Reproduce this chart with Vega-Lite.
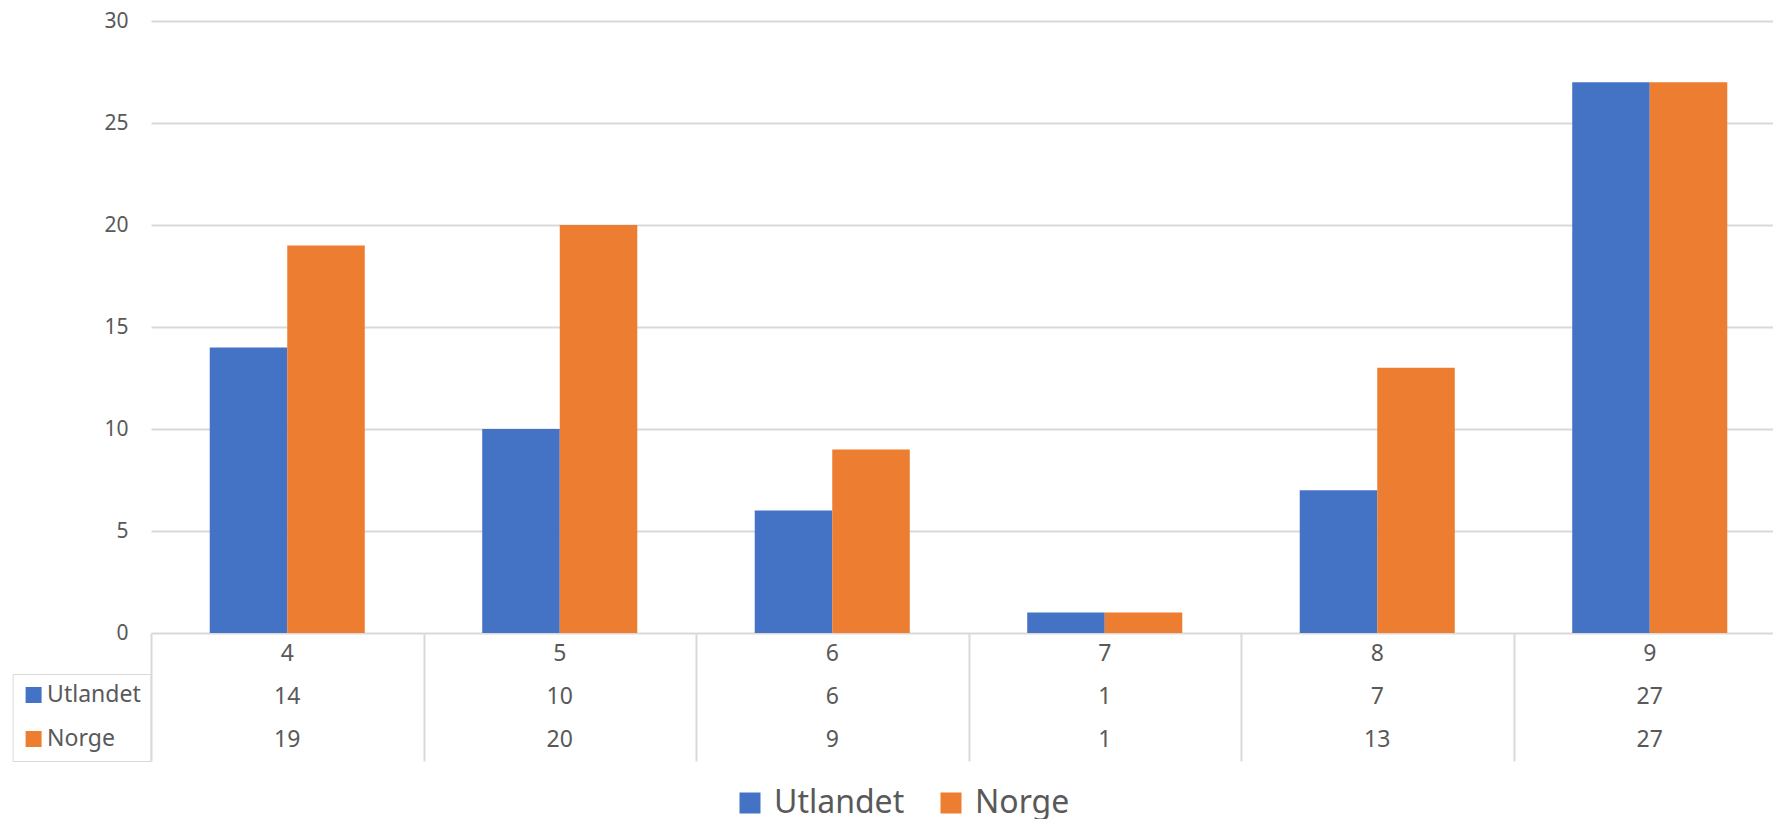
{
  "$schema": "https://vega.github.io/schema/vega-lite/v6.json",
  "padding": {"left": 12, "top": 10, "right": 0, "bottom": 0},
  "spacing": 0,
  "bounds": "flush",
  "data": {"values": [
    {"kategori": "4", "serie": "Utlandet", "antall": 14},
    {"kategori": "5", "serie": "Utlandet", "antall": 10},
    {"kategori": "6", "serie": "Utlandet", "antall": 6},
    {"kategori": "7", "serie": "Utlandet", "antall": 1},
    {"kategori": "8", "serie": "Utlandet", "antall": 7},
    {"kategori": "9", "serie": "Utlandet", "antall": 27},
    {"kategori": "4", "serie": "Norge", "antall": 19},
    {"kategori": "5", "serie": "Norge", "antall": 20},
    {"kategori": "6", "serie": "Norge", "antall": 9},
    {"kategori": "7", "serie": "Norge", "antall": 1},
    {"kategori": "8", "serie": "Norge", "antall": 13},
    {"kategori": "9", "serie": "Norge", "antall": 27}
  ]},
  "config": {
    "font": "Noto Sans",
    "view": {"stroke": null},
    "text": {"font": "Noto Sans"}
  },
  "resolve": {
    "scale": {"x": "independent", "y": "independent"},
    "legend": {"color": "independent"}
  },
  "vconcat": [
    {
      "width": 1635,
      "height": 612,
      "mark": {"type": "bar"},
      "encoding": {
        "x": {
          "field": "kategori", "type": "nominal",
          "sort": ["4", "5", "6", "7", "8", "9"],
          "scale": {"paddingInner": 0.431, "paddingOuter": 0.2155},
          "axis": null
        },
        "xOffset": {
          "field": "serie", "type": "nominal",
          "sort": ["Utlandet", "Norge"],
          "scale": {"paddingInner": 0, "paddingOuter": 0}
        },
        "y": {
          "field": "antall", "type": "quantitative",
          "scale": {"domain": [0, 30], "nice": false},
          "axis": {
            "title": null,
            "values": [0, 5, 10, 15, 20, 25, 30],
            "grid": true, "gridColor": "#d9d9d9", "gridWidth": 2,
            "domain": false, "ticks": false,
            "labelFontSize": 21, "labelColor": "#595959", "labelPadding": 23
          }
        },
        "color": {
          "field": "serie", "type": "nominal",
          "scale": {"domain": ["Utlandet", "Norge"], "range": ["#4472c4", "#ed7d31"]},
          "legend": {
            "title": null,
            "orient": "none",
            "legendX": 583,
            "legendY": 766,
            "direction": "horizontal",
            "symbolType": "square",
            "symbolSize": 441,
            "symbolStrokeWidth": 0,
            "labelFontSize": 32,
            "labelColor": "#595959",
            "labelOffset": 8,
            "columnPadding": 30,
            "padding": 0
          }
        }
      }
    },
    {
      "width": 1635,
      "height": 128,
      "encoding": {
        "x": {
          "field": "kategori", "type": "nominal",
          "sort": ["4", "5", "6", "7", "8", "9"],
          "scale": {"paddingInner": 0, "paddingOuter": 0},
          "axis": {
            "title": null, "orient": "top",
            "labels": false, "ticks": false, "domain": false,
            "grid": true, "gridColor": "#d9d9d9", "gridWidth": 2,
            "tickBand": "extent"
          }
        }
      },
      "layer": [
        {
          "mark": {"type": "rect", "opacity": 0},
          "encoding": {
            "y": {
              "field": "serie", "type": "nominal",
              "scale": {"domain": ["hdr", "Utlandet", "Norge"], "paddingInner": 0, "paddingOuter": 0},
              "axis": {
                "title": null, "labels": false,
                "ticks": true, "tickSize": 138.4, "tickColor": "#d9d9d9", "tickWidth": 2,
                "tickBand": "extent",
                "tickOpacity": {"condition": {"test": "datum.value === 'hdr'", "value": 0}, "value": 1},
                "grid": true, "gridColor": "#d9d9d9", "gridWidth": 2,
                "domain": true, "domainColor": "#d9d9d9", "domainWidth": 2
              }
            },
            "color": {
              "field": "serie", "type": "nominal",
              "scale": {"domain": ["Utlandet", "Norge"], "range": ["#4472c4", "#ed7d31"]},
              "legend": {
                "title": null,
                "orient": "none",
                "legendX": -138.4,
                "legendY": 41,
                "direction": "vertical",
                "symbolType": "square",
                "symbolSize": 256,
                "symbolStrokeWidth": 0,
                "symbolOpacity": 1,
                "labelFontSize": 23,
                "labelColor": "#595959",
                "labelOffset": 2,
                "rowPadding": 20,
                "padding": 9.5,
                "strokeColor": "#d9d9d9"
              }
            }
          }
        },
        {
          "mark": {"type": "text", "fontSize": 23, "color": "#595959"},
          "encoding": {
            "y": {"field": "serie", "type": "nominal", "axis": null},
            "text": {"field": "antall", "type": "quantitative"}
          }
        },
        {
          "transform": [{"filter": "datum.serie === 'Utlandet'"}],
          "mark": {"type": "text", "fontSize": 23, "color": "#595959"},
          "encoding": {
            "y": {"datum": "hdr", "type": "nominal", "axis": null},
            "text": {"field": "kategori", "type": "nominal"}
          }
        }
      ]
    }
  ]
}
